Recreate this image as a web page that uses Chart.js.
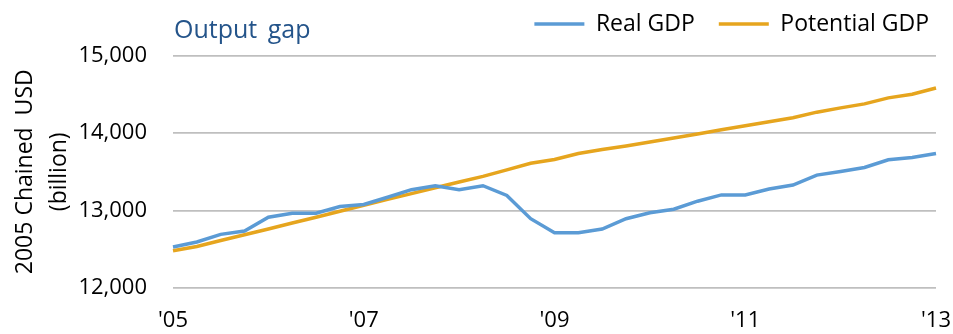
<!DOCTYPE html>
<html>
<head>
<meta charset="utf-8">
<script src="https://cdn.jsdelivr.net/npm/chart.js@4/dist/chart.umd.min.js"></script>
<style>
    body { margin: 0; background: #fff; }
    .chart-box { position: relative; width: 953px; height: 334px; }
    .chart-title {
        position: absolute; left: 174px; top: 11px;
        font-family: "Open Sans", sans-serif; font-size: 25px;
        color: #24548a; word-spacing: 4px;
    }
</style>
</head>
<body>
<div class="chart-box">
    <canvas id="gapChart"></canvas>
    <div class="chart-title">Output gap</div>
</div>
<script>
// quarterly, 2005Q1 .. 2013Q1
const quarters = [
    '2005Q1', '2005Q2', '2005Q3', '2005Q4', '2006Q1', '2006Q2', '2006Q3', '2006Q4',
    '2007Q1', '2007Q2', '2007Q3', '2007Q4', '2008Q1', '2008Q2', '2008Q3', '2008Q4',
    '2009Q1', '2009Q2', '2009Q3', '2009Q4', '2010Q1', '2010Q2', '2010Q3', '2010Q4',
    '2011Q1', '2011Q2', '2011Q3', '2011Q4', '2012Q1', '2012Q2', '2012Q3', '2012Q4',
    '2013Q1'
];
const xTickLabels = ["'05", "'07", "'09", "'11", "'13"];

const realGdp = [
    12530, 12594, 12692, 12735, 12914, 12965, 12965, 13051,
    13077, 13171, 13269, 13320, 13269, 13320, 13195, 12894,
    12714, 12714, 12760, 12894, 12970, 13017, 13120, 13201,
    13201, 13278, 13329, 13457, 13504, 13555, 13654, 13684,
    13735
];
const potentialGdp = [
    12480, 12536, 12612, 12688, 12762, 12838, 12912, 12990,
    13068, 13143, 13218, 13293, 13368, 13440, 13524, 13610,
    13658, 13735, 13786, 13833, 13885, 13936, 13987, 14042,
    14094, 14145, 14196, 14269, 14324, 14376, 14453, 14500,
    14581
];

const FONT = '"Open Sans", sans-serif';

// push the plot area down a little below the legend row
const legendSpacer = {
    id: 'legendSpacer',
    beforeInit(chart) {
        const fit = chart.legend.fit;
        chart.legend.fit = function() {
            fit.call(this);
            this.height += 10;
        };
    }
};

document.addEventListener('DOMContentLoaded', function() {
    const ctx = document.getElementById('gapChart');

    new Chart(ctx, {
        type: 'line',
        data: {
            labels: quarters,
            datasets: [{
                label: 'Real GDP',
                data: realGdp,
                borderColor: '#5b9bd5',
                backgroundColor: '#5b9bd5',
                borderWidth: 3.5,
                pointRadius: 0,
                tension: 0
            }, {
                label: 'Potential GDP',
                data: potentialGdp,
                borderColor: '#e6a51e',
                backgroundColor: '#e6a51e',
                borderWidth: 3.5,
                pointRadius: 0,
                tension: 0
            }]
        },
        options: {
            responsive: true,
            maintainAspectRatio: false,
            animation: false,
            layout: {
                padding: { top: -11.5, right: 0, bottom: 0, left: 0 }
            },
            plugins: {
                legend: {
                    position: 'top',
                    align: 'end',
                    labels: {
                        usePointStyle: true,
                        pointStyle: 'line',
                        pointStyleWidth: 50,
                        color: '#000',
                        padding: 24,
                        font: { family: FONT, size: 23 }
                    }
                },
                tooltip: { enabled: false }
            },
            scales: {
                x: {
                    grid: { display: false, drawTicks: false },
                    border: { display: false },
                    afterFit: function(scale) { scale.height = 46; },
                    ticks: {
                        autoSkip: false,
                        maxRotation: 0,
                        padding: 2,
                        color: '#000',
                        font: { family: FONT, size: 22, lineHeight: 2.8 },
                        callback: function(value, index) {
                            return index % 8 === 0 ? xTickLabels[index / 8] : '';
                        }
                    }
                },
                y: {
                    min: 12000,
                    max: 15000,
                    grid: { color: '#bfbfbf', lineWidth: 1.7, drawTicks: false },
                    border: { display: false },
                    afterFit: function(scale) { scale.width = 173; },
                    ticks: {
                        stepSize: 1000,
                        padding: 26,
                        color: '#000',
                        font: { family: FONT, size: 22 },
                        callback: function(value) {
                            return value.toLocaleString('en-US');
                        }
                    },
                    title: {
                        display: true,
                        text: ['2005 Chained  USD', '(billion)'],
                        color: '#000',
                        padding: { top: 9, bottom: 0 },
                        font: { family: FONT, size: 23, lineHeight: 1.45 }
                    }
                }
            }
        },
        plugins: [legendSpacer]
    });
});
</script>
</body>
</html>
